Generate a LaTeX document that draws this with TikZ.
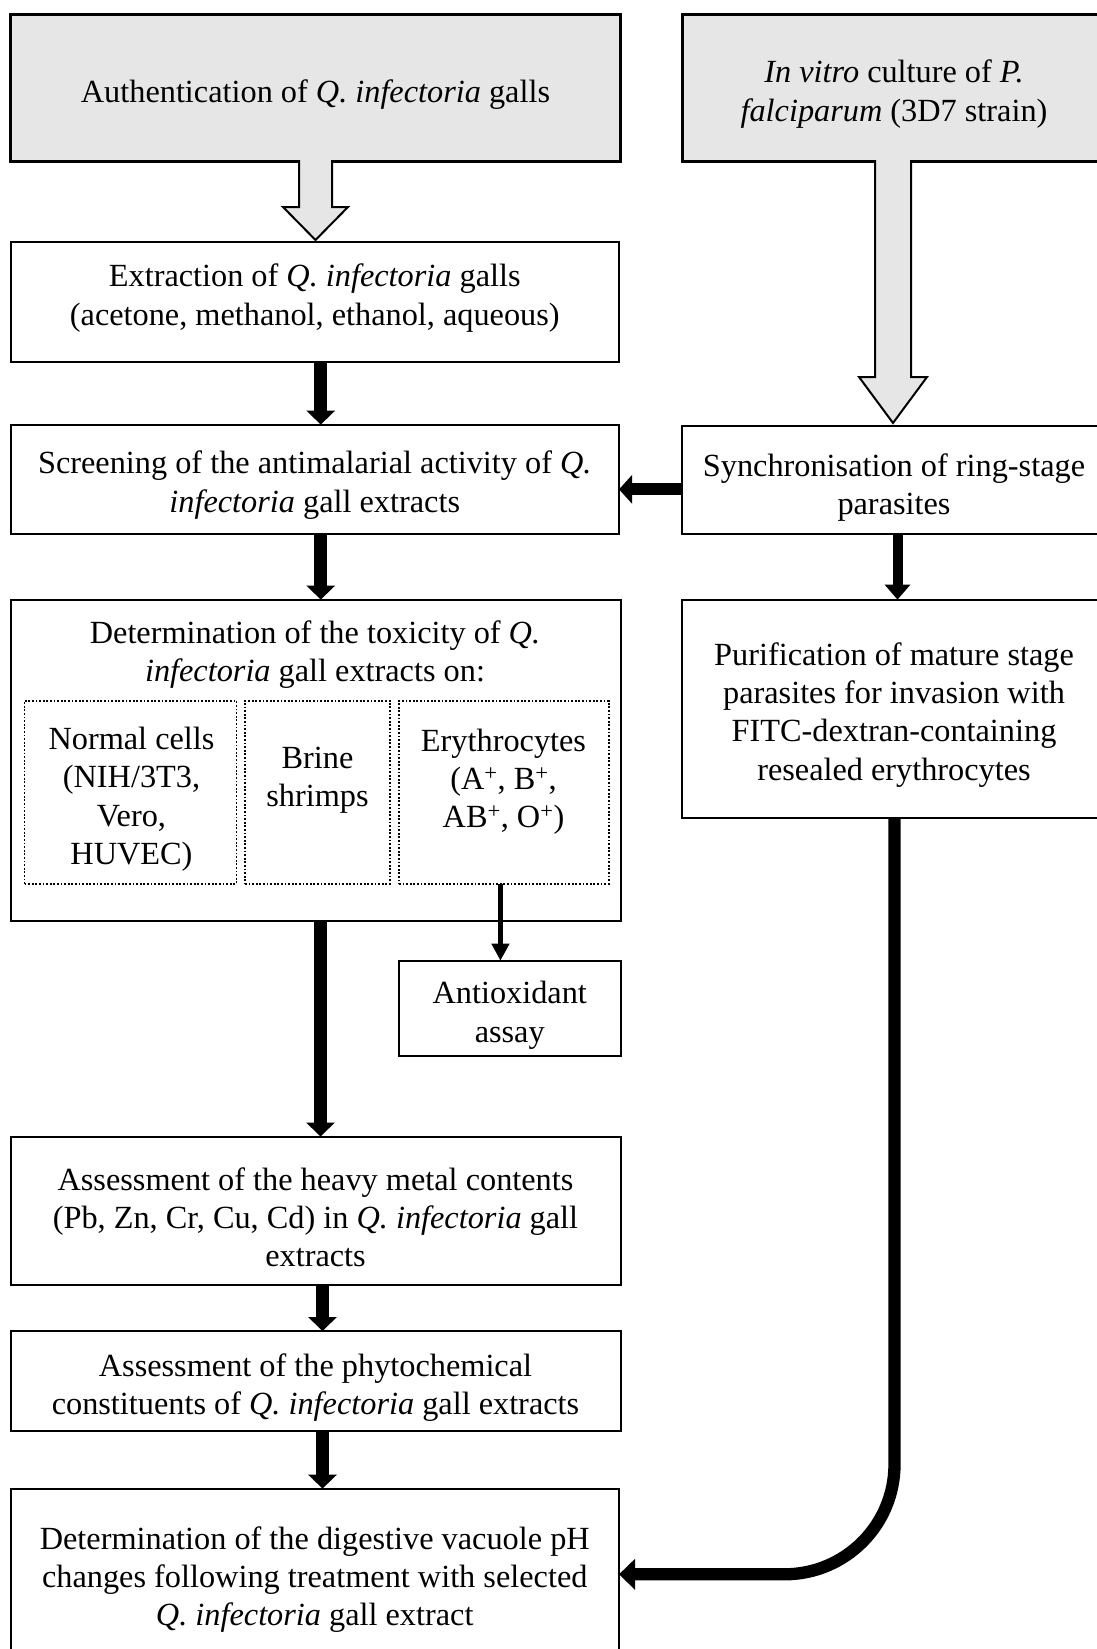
\documentclass[tikz,border=0pt]{standalone}
\usepackage{fontspec}
\setmainfont{Liberation Serif}
\usetikzlibrary{arrows.meta,calc}
\definecolor{boxgray}{RGB}{230,230,230}
\begin{document}
\begin{tikzpicture}[x=1pt,y=-1pt,
  every node/.style={font=\fontsize{32.3}{38.2}\selectfont, align=center, inner sep=0pt, outer sep=0pt},
  bx/.style 2 args={draw, line width=2pt, minimum width=#1, minimum height=#2},
  topbx/.style 2 args={draw, line width=3pt, fill=boxgray, minimum width=#1, minimum height=#2},
  dotbx/.style 2 args={draw, line width=1.8pt, dash pattern=on 1.8pt off 1.8pt, minimum width=#1, minimum height=#2},
  hollow/.style={draw, line width=2pt, fill=boxgray, line join=miter},
  bigarr/.style={line width=13pt, -{Triangle[length=14pt,width=28pt]}},
  sidearr/.style={line width=12pt, -{Triangle[length=13pt,width=28pt]}},
  midarr/.style={line width=10pt, -{Triangle[length=15pt,width=25pt]}},
  thinarr/.style={line width=4.5pt, -{Triangle[length=17pt,width=17pt]}},
  curvearr/.style={line width=12.3pt, rounded corners=110pt, -{Triangle[length=16pt,width=30pt]}},
]
\useasboundingbox (0,0) rectangle (1097,1649);
\clip (0,0) rectangle (1097,1649);

% boxes
\node[topbx={610pt}{147.7pt}] (auth) at (315.5,87.85) {};
\node[topbx={424pt}{147.7pt}] (invitro) at (894,87.85) {};
\node[bx={608.5pt}{119.4pt}] (extr) at (314.75,302) {};
\node[bx={608.5pt}{109.7pt}] (screen) at (314.75,479.45) {};
\node[bx={424pt}{107.9pt}] (sync) at (894,480.35) {};
\node[bx={610pt}{321.4pt}] (det) at (315.5,760.3) {};
\node[dotbx={212pt}{182.9pt}] (db1) at (130.5,792.15) {};
\node[dotbx={145pt}{182.9pt}] (db2) at (317.5,792.15) {};
\node[dotbx={209.7pt}{182.9pt}] (db3) at (503.85,792.15) {};
\node[bx={424pt}{217.9pt}] (purif) at (894,708.55) {};
\node[bx={221.5pt}{95.3pt}] (anti) at (509.75,1008.35) {};
\node[bx={610pt}{148.1pt}] (heavy) at (315.5,1210.55) {};
\node[bx={610pt}{100.3pt}] (phyto) at (315.5,1381.15) {};
\node[bx={608.5pt}{175.4pt}] (final) at (314.75,1576.3) {};

% texts
\node (autht) at (315.5,95) {Authentication of \textit{Q. infectoria} galls};
\node (invitrot) at (894,94) {\textit{In vitro} culture of \textit{P.}\\\textit{falciparum} (3D7 strain)};
\node (extrt) at (314.75,298) {Extraction of \textit{Q. infectoria} galls\\(acetone, methanol, ethanol, aqueous)};
\node (screent) at (314.75,485.2) {Screening of the antimalarial activity of \textit{Q.}\\\textit{infectoria} gall extracts};
\node (synct) at (894,487.3) {Synchronisation of ring-stage\\parasites};
\node (dett) at (315,654.6) {Determination of the toxicity of \textit{Q.}\\\textit{infectoria} gall extracts on:};
\node (db1t) at (131.5,799.3) {Normal cells\\(NIH/3T3,\\Vero,\\HUVEC)};
\node (db2t) at (317.5,780.4) {Brine\\shrimps};
\node (db3t) at (503.5,781.6) {Erythrocytes\\(A\textsuperscript{+}, B\textsuperscript{+},\\AB\textsuperscript{+}, O\textsuperscript{+})};
\node (puriftt) at (894,715) {Purification of mature stage\\parasites for invasion with\\FITC-dextran-containing\\resealed erythrocytes};
\node (antit) at (509.75,1015.3) {Antioxidant\\assay};
\node (heavyt) at (315.5,1217) {Assessment of the heavy metal contents\\(Pb, Zn, Cr, Cu, Cd) in \textit{Q. infectoria} gall\\extracts};
\node (phytot) at (315.5,1387.7) {Assessment of the phytochemical\\constituents of \textit{Q. infectoria} gall extracts};
\node (finalt) at (314.75,1579.4) {Determination of the digestive vacuole pH\\changes following treatment with selected\\\textit{Q. infectoria} gall extract};

% hollow block arrows, opening out of the grey boxes
\draw[hollow] ($(auth.south)+(-16.5,-1.5)$) -- ($(auth.south)+(-16.5,45.3)$) -- ($(auth.south)+(-32.5,45.3)$)
  -- ($(auth.south)+(0,78.3)$) -- ($(auth.south)+(32.5,45.3)$) -- ($(auth.south)+(16.5,45.3)$) -- ($(auth.south)+(16.5,-1.5)$);
\draw[hollow] ($(invitro.south)+(-19,-1.5)$) -- ($(invitro.south)+(-19,215.3)$) -- ($(invitro.south)+(-35,215.3)$)
  -- ($(invitro.south)+(-1,261.3)$) -- ($(invitro.south)+(33,215.3)$) -- ($(invitro.south)+(17,215.3)$) -- ($(invitro.south)+(17,-1.5)$);

% connectors
\draw[bigarr] ([xshift=6pt]extr.south) -- ([xshift=6pt]extr.south |- screen.north);
\draw[bigarr] ([xshift=6pt]screen.south) -- ([xshift=6pt]screen.south |- det.north);
\draw[bigarr] ([xshift=5pt]det.south) -- ([xshift=5pt]det.south |- heavy.north);
\draw[bigarr] ([xshift=7pt]heavy.south) -- ([xshift=7pt]heavy.south |- phyto.north);
\draw[bigarr] ([xshift=7pt]phyto.south) -- ([xshift=7pt]phyto.south |- final.north);
\draw[sidearr] ([yshift=-9pt]sync.west) -- ([yshift=-9pt]sync.west -| screen.east);
\draw[midarr] ([xshift=3.5pt]sync.south) -- ([xshift=3.5pt]sync.south |- purif.north);
\draw[thinarr] ([xshift=-3.4pt]db3.south) -- ([xshift=-3.4pt]db3.south |- anti.north);
\draw[curvearr] ([xshift=0.5pt]purif.south) |- ([yshift=2pt]final.east);
\end{tikzpicture}
\end{document}
